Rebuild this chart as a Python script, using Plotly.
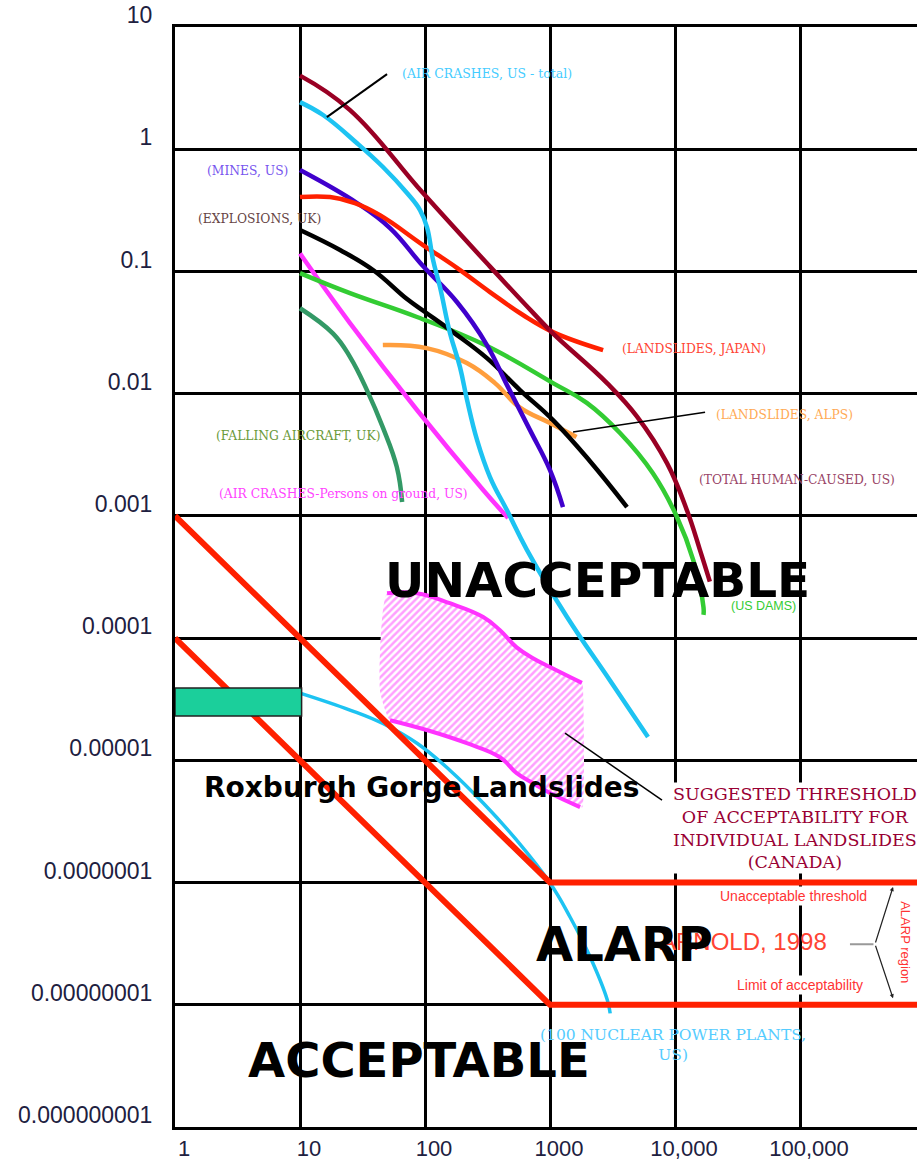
import math
import plotly.graph_objects as go

# ---------------- F-N curves (N = fatalities, F = frequency of N or more per year) ----------------
total_human_n = [10, 25, 96, 330, 730, 1060, 2860, 4970, 8630, 12500, 15800, 19000]
total_human_f = [4.0, 2.1, 0.44, 0.11, 0.046, 0.031, 0.0122, 0.0065, 0.0027, 0.0011, 0.00053, 0.00029]

air_total_n = [10, 15.3, 28.6, 46.1, 71.8, 91.2, 103.7, 116, 131.8, 158.5, 190.5, 217, 261, 331, 453,
               655, 1368, 3020, 6080]
air_total_f = [2.43, 1.905, 1.12, 0.715, 0.438, 0.318, 0.2307, 0.124, 0.0745, 0.0313, 0.0165, 0.00887,
               0.00417, 0.00208, 0.00111, 0.000525, 0.000149, 0.000045, 0.0000155]

mines_n = [10, 28.6, 52.5, 96.4, 180, 313, 453, 692, 1000, 1270]
mines_f = [0.676, 0.363, 0.2265, 0.1106, 0.0562, 0.025, 0.01175, 0.00503, 0.00237, 0.00118]

japan_n = [10, 17.4, 27.5, 43.6, 96.4, 180, 331, 608, 1057, 2660]
japan_f = [0.406, 0.406, 0.363, 0.289, 0.1644, 0.107, 0.0678, 0.044, 0.0319, 0.0227]

explosions_n = [10, 20.9, 38.4, 71.8, 100, 167.5, 313, 575, 1057, 2089, 4130]
explosions_f = [0.218, 0.1496, 0.1027, 0.0594, 0.0466, 0.0319, 0.01954, 0.0107, 0.00608, 0.0028, 0.00118]

dams_n = [10, 25.1, 86.3, 302, 1057, 1970, 3630, 6635, 10370, 13990, 16900, 16900]
dams_f = [0.097, 0.0665, 0.0424, 0.025, 0.0122, 0.0084, 0.00476, 0.00224, 0.00098, 0.000435, 0.000179, 0.000155]

alps_n = [46, 103, 216, 363, 568, 1000, 1630]
alps_f = [0.025, 0.0236, 0.0178, 0.0122, 0.00776, 0.00575, 0.00442]

falling_n = [10, 18.4, 25.1, 34.3, 46, 59.5, 65.6]
falling_f = [0.050, 0.031, 0.020, 0.0107, 0.0053, 0.00251, 0.0013]

ground_n = [10, 25.1, 86.3, 292, 462]
ground_f = [0.14, 0.0378, 0.00735, 0.00163, 0.00096]

nuclear_n = [10, 25.1, 46, 86.3, 158, 292, 541, 1000, 1450, 2100, 2870, 3030]
nuclear_f = [3.55e-5, 2.58e-5, 2.0e-5, 1.38e-5, 8.3e-6, 4.47e-6, 2.22e-6, 9.9e-7, 5.2e-7, 2.45e-7, 1.1e-7, 8.5e-8]

# Roxburgh Gorge landslides envelope
rox_upper_n = [49.7, 86, 158, 292, 398, 541, 731, 1000, 1800]
rox_upper_f = [2.33e-4, 2.33e-4, 1.93e-4, 1.49e-4, 1.16e-4, 8.4e-5, 6.85e-5, 5.8e-5, 4.3e-5]
rox_lower_n = [52.5, 103, 216, 398, 541, 731, 1000, 1740]
rox_lower_f = [2.13e-5, 1.77e-5, 1.38e-5, 1.06e-5, 7.85e-6, 6.5e-6, 5.4e-6, 4.14e-6]
rox_left_n, rox_left_f = 43.6, 3.75e-5
rox_right_n = 1820

# Roxburgh Gorge individual-slide band
band_n = [1, 10.3]
band_f = [2.3e-5, 3.9e-5]

# Canadian suggested thresholds (slope -1, then flat)
unacc_n = [1, 1000, 10 ** 5.94]
unacc_f = [1e-3, 1e-6, 1e-6]
accept_n = [1, 1000, 10 ** 5.94]
accept_f = [1e-4, 1e-7, 1e-7]

# Axis ticks
x_tickvals = [1, 10, 100, 1000, 10000, 100000]
x_ticktext = ["1", "10", "100", "1000", "10,000", "100,000"]
y_tickvals = [10, 1, 0.1, 0.01, 0.001, 1e-4, 1e-5, 1e-6, 1e-7, 1e-8]
y_ticktext = ["10", "1", "0.1", "0.01", "0.001", "0.0001", "0.00001",
              "0.0000001", "0.00000001", "0.000000001"]

# ---------------- colours ----------------
C_MAROON = "#990024"
C_CYAN = "#1DC3F2"
C_PURPLE = "#4000CC"
C_RED = "#FF2000"
C_GREEN = "#33CC33"
C_ORANGE = "#FF9E3D"
C_SEAGREEN = "#339966"
C_MAGENTA = "#FF33FF"

fig = go.Figure()


def curve(n, f, color, width=4.5, smooth=True):
    line = dict(color=color, width=width, shape="spline" if smooth else "linear")
    if smooth:
        line["smoothing"] = 1.2
    fig.add_trace(go.Scatter(x=n, y=f, mode="lines", line=line,
                             hoverinfo="skip", showlegend=False))


# Hatched envelope for Roxburgh Gorge
poly_n = rox_upper_n + [rox_right_n, rox_right_n] + rox_lower_n[::-1] + [rox_left_n, rox_upper_n[0]]
poly_f = rox_upper_f + [rox_upper_f[-1], rox_lower_f[-1]] + rox_lower_f[::-1] + [rox_left_f, rox_upper_f[0]]
fig.add_trace(go.Scatter(
    x=poly_n, y=poly_f, mode="lines", fill="toself",
    line=dict(width=0, color="rgba(0,0,0,0)", shape="spline", smoothing=0.5),
    fillcolor="rgba(0,0,0,0)",
    fillpattern=dict(shape="/", fgcolor="#FF40FF", bgcolor="white", size=5, solidity=0.5),
    hoverinfo="skip", showlegend=False))
curve(rox_upper_n, rox_upper_f, C_MAGENTA, 4)
curve(rox_lower_n, rox_lower_f, C_MAGENTA, 4)

# Historical F-N curves
curve(falling_n, falling_f, C_SEAGREEN)
curve(ground_n, ground_f, C_MAGENTA)
curve(dams_n, dams_f, C_GREEN)
curve(alps_n, alps_f, C_ORANGE)
curve(explosions_n, explosions_f, "black")
curve(mines_n, mines_f, C_PURPLE)
curve(japan_n, japan_f, C_RED)
curve(air_total_n, air_total_f, C_CYAN)
curve(total_human_n, total_human_f, C_MAROON)
curve(nuclear_n, nuclear_f, C_CYAN, 3.5)

# Threshold lines
curve(unacc_n, unacc_f, C_RED, 6, smooth=False)
curve(accept_n, accept_f, C_RED, 6, smooth=False)

# Roxburgh band
fig.add_trace(go.Scatter(
    x=[band_n[0], band_n[1], band_n[1], band_n[0], band_n[0]],
    y=[band_f[0], band_f[0], band_f[1], band_f[1], band_f[0]],
    mode="lines", fill="toself", fillcolor="#1BCF9B",
    line=dict(color="#222222", width=1.5), hoverinfo="skip", showlegend=False))

# Leader lines
leaders = [
    ([49.7, 16.4], [4.12, 1.83], 2),
    ([17400, 1528], [0.00706, 0.00485], 1.5),
    ([1318, 7870], [1.67e-5, 4.72e-6], 1.5),
]
for ln, lf, w in leaders:
    fig.add_trace(go.Scatter(x=ln, y=lf, mode="lines", line=dict(color="black", width=w),
                             hoverinfo="skip", showlegend=False))

# ---------------- annotations ----------------
SERIF = "DejaVu Serif"
SANS = "Liberation Sans"
BOLD = "DejaVu Sans"

annotations = []


def note(text, n, f, color, size, family=SERIF, xanchor="center", weight="normal",
         bgcolor=None, angle=0):
    a = dict(text=text, x=math.log10(n), y=math.log10(f), xref="x", yref="y",
             showarrow=False, xanchor=xanchor, yanchor="middle", textangle=angle,
             font=dict(family=family, size=size, color=color, weight=weight))
    if bgcolor:
        a["bgcolor"] = bgcolor
        a["borderpad"] = 1
    annotations.append(a)


note("(AIR CRASHES, US - total)", 63, 4.2, "#44CCFF", 12.5, xanchor="left")
note("(MINES, US)", 8.3, 0.66, "#7755EE", 12.3, xanchor="right")
note("(EXPLOSIONS, UK)", 15.3, 0.27, "#664444", 12.3, xanchor="right")
note("(LANDSLIDES, JAPAN)", 3630, 0.0232, "#FF4433", 12.3, xanchor="left")
note("(LANDSLIDES, ALPS)", 20500, 0.00668, "#FFAA55", 12.3, xanchor="left")
note("(FALLING AIRCRAFT, UK)", 45.3, 0.0045, "#6A9A3A", 12.3, xanchor="right")
note("(AIR CRASHES-Persons on ground, US)", 2.17, 0.0015, "#FF44FF", 12.3, xanchor="left")
note("(TOTAL HUMAN-CAUSED, US)", 15000, 0.00196, "#994466", 12.3, xanchor="left")
note("(US DAMS)", 27000, 1.83e-4, "#33CC33", 12.5, family=SANS, xanchor="left")

note("ARNOLD, 1998", 35600, 3.3e-7, "#FF4433", 24, family=SANS)
note("UNACCEPTABLE", 2380, 2.99e-4, "black", 48.5, family=BOLD, weight="bold")
note("Roxburgh Gorge Landslides", 93, 6.04e-6, "black", 28, family=BOLD, weight="bold")
note("ALARP", 3980, 3.13e-7, "black", 48, family=BOLD, weight="bold")
note("ACCEPTABLE", 89.5, 3.52e-8, "black", 48, family=BOLD, weight="bold")

note("SUGGESTED THRESHOLD<br>OF ACCEPTABILITY FOR<br>INDIVIDUAL LANDSLIDES<br>(CANADA)",
     91200, 2.79e-6, "#990033", 17.5, bgcolor="white")
note("Unacceptable threshold", 87900, 7.74e-7, "#FF3333", 14, family=SANS, bgcolor="white")
note("Limit of acceptability", 100000, 1.45e-7, "#FF3333", 14, family=SANS, bgcolor="white")
note("(100 NUCLEAR POWER PLANTS,<br>US)", 9640, 4.67e-8, "#55CCFF", 15.5)
note("ALARP region", 705000, 3.25e-7, "#FF3333", 13, family=SANS, angle=90)

# ALARP bracket
for tip_f, ay in [(9.2e-7, 57), (1.13e-7, -54)]:
    annotations.append(dict(text="", x=math.log10(555000), y=math.log10(tip_f), xref="x", yref="y",
                            showarrow=True, ax=-18, ay=ay, arrowhead=2, arrowsize=0.7,
                            arrowwidth=1.2, arrowcolor="#222222"))
annotations.append(dict(text="", x=math.log10(251000), y=math.log10(3.13e-7), xref="x", yref="y",
                        showarrow=True, ax=25, ay=0, arrowhead=0, arrowwidth=2,
                        arrowcolor="#999999"))

TICK_FONT = dict(family=SANS, size=23, color="#202040")

fig.update_layout(
    width=917, height=1160,
    margin=dict(l=175, r=0, t=27, b=33),
    paper_bgcolor="white", plot_bgcolor="white",
    showlegend=False,
    annotations=annotations,
    xaxis=dict(type="log", range=[0, 5.936], tickvals=x_tickvals, ticktext=x_ticktext,
               showgrid=True, gridcolor="black", gridwidth=3,
               showline=True, linecolor="black", linewidth=3, mirror=True,
               ticks="", tickfont=dict(family=SANS, size=22, color="#202040"),
               ticklabelshift=9, ticklabelstandoff=0,
               zeroline=False, automargin=False),
    yaxis=dict(type="log", range=[-8, 1], tickvals=y_tickvals, ticktext=y_ticktext,
               showgrid=True, gridcolor="black", gridwidth=3,
               showline=True, linecolor="black", linewidth=3,
               ticks="", tickfont=TICK_FONT, ticklabelshift=-12, ticklabelstandoff=15,
               zeroline=False, automargin=False),
)

fig.write_html("out.html")
